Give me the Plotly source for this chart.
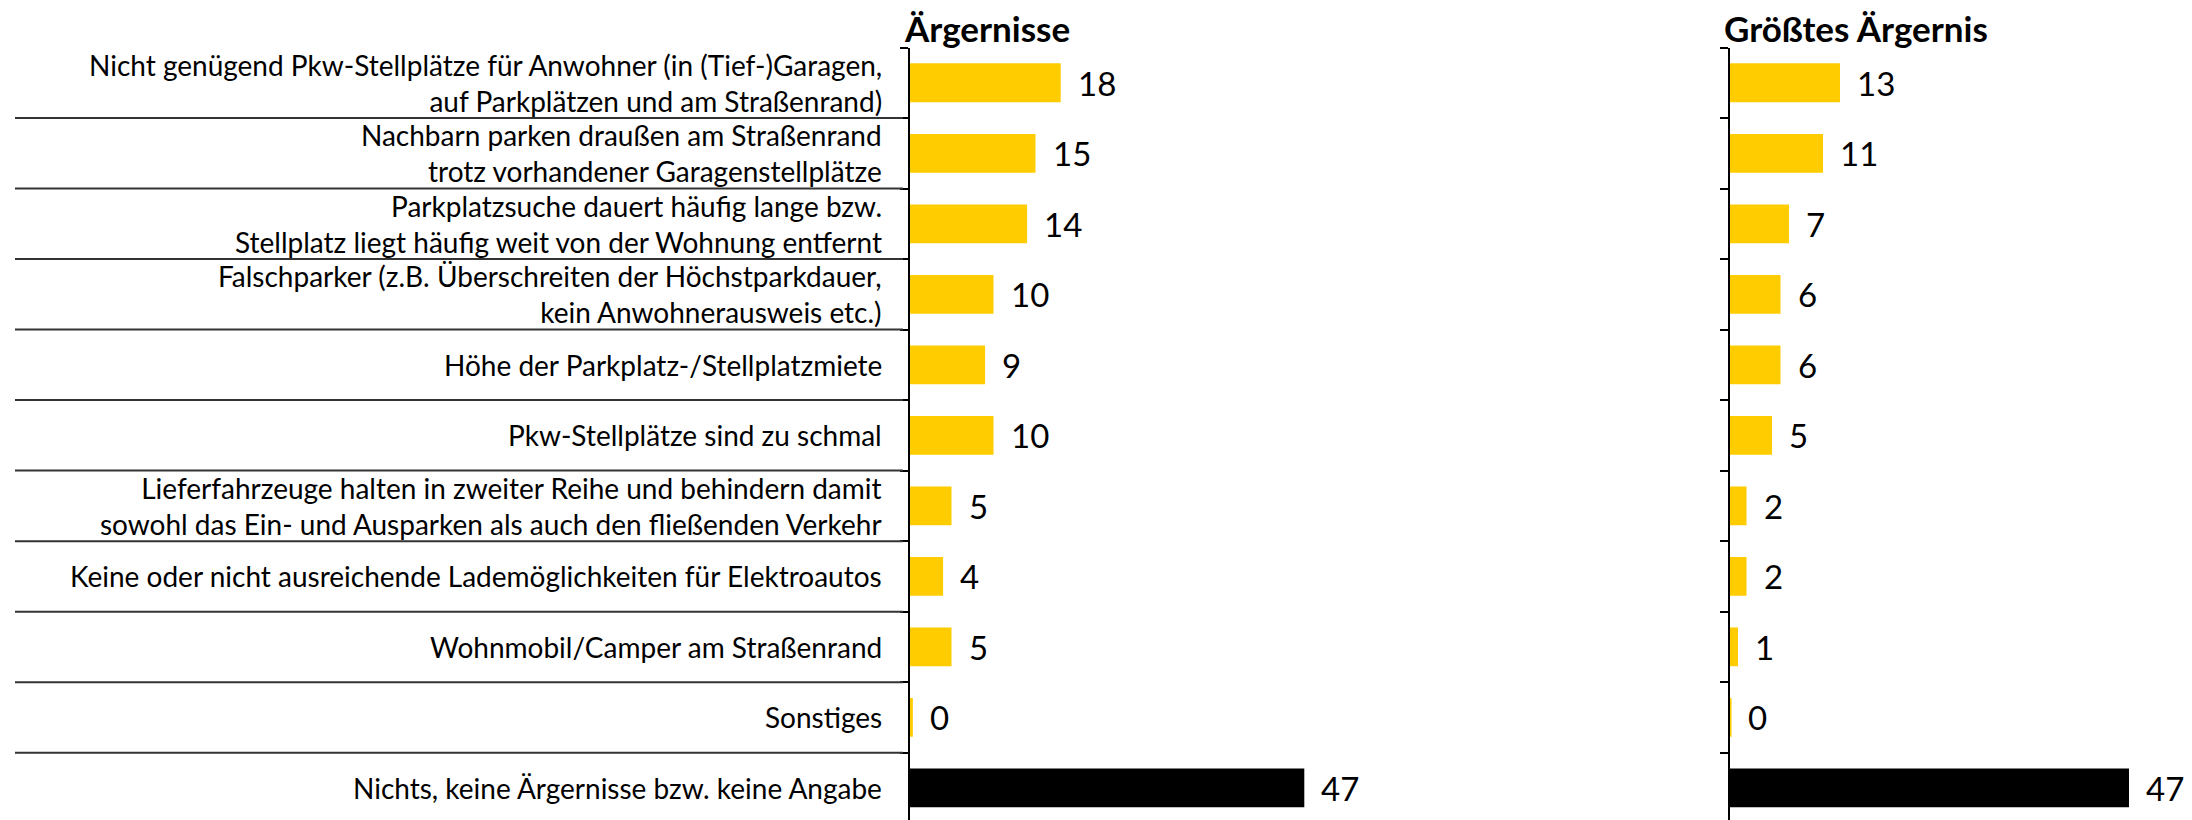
import plotly.graph_objects as go

categories = [
    "Nicht genügend Pkw-Stellplätze für Anwohner (in (Tief-)Garagen,<br>auf Parkplätzen und am Straßenrand)",
    "Nachbarn parken draußen am Straßenrand<br>trotz vorhandener Garagenstellplätze",
    "Parkplatzsuche dauert häufig lange bzw.<br>Stellplatz liegt häufig weit von der Wohnung entfernt",
    "Falschparker (z.B. Überschreiten der Höchstparkdauer,<br>kein Anwohnerausweis etc.)",
    "Höhe der Parkplatz-/Stellplatzmiete",
    "Pkw-Stellplätze sind zu schmal",
    "Lieferfahrzeuge halten in zweiter Reihe und behindern damit<br>sowohl das Ein- und Ausparken als auch den fließenden Verkehr",
    "Keine oder nicht ausreichende Lademöglichkeiten für Elektroautos",
    "Wohnmobil/Camper am Straßenrand",
    "Sonstiges",
    "Nichts, keine Ärgernisse bzw. keine Angabe",
]
aergernisse = [18, 15, 14, 10, 9, 10, 5, 4, 5, 0.4, 47]
groesstes = [13, 11, 7, 6, 6, 5, 2, 2, 1, 0.2, 47]
titles = ["Ärgernisse", "Größtes Ärgernis"]

# page body has an 8px default margin; size the figure to fill the rest
OFF = 8
W, H = 2192 - OFF, 820 - OFF
FONT = "Lato"
YELLOW = "#FFCC00"
colors = [YELLOW] * (len(categories) - 1) + ["#000000"]


def px_x(x):
    return (x - OFF) / W


def px_y(y):
    return 1 - (y - OFF) / H


top_px = 47.5
row_px = 70.52
rows_visible = (820 - top_px) / row_px
ydom = [0, px_y(top_px)]
yrange = [-0.5 + rows_visible, -0.5]

ax1_px, sc1, r1 = 909.5, 8.4, 60
ax2_px, sc2, r2 = 1729.5, 8.5, 50

ypos = list(range(len(categories)))

fig = go.Figure()
fig.add_trace(go.Bar(x=aergernisse, y=ypos, orientation="h", width=0.55,
                     marker=dict(color=colors, line=dict(width=0)),
                     xaxis="x", yaxis="y", hoverinfo="skip"))
fig.add_trace(go.Bar(x=groesstes, y=ypos, orientation="h", width=0.55,
                     marker=dict(color=colors, line=dict(width=0)),
                     xaxis="x2", yaxis="y2", hoverinfo="skip"))

yax = dict(domain=ydom, range=yrange, tickmode="array",
           tickvals=[i - 0.5 for i in range(len(categories) + 1)],
           showticklabels=False, ticks="outside", ticklen=8, tickwidth=2,
           tickcolor="black", showline=True, linewidth=2, linecolor="black",
           showgrid=False, zeroline=False)

fig.update_layout(
    width=W, height=H, margin=dict(l=0, r=0, t=0, b=0),
    paper_bgcolor="white", plot_bgcolor="rgba(0,0,0,0)",
    showlegend=False, font=dict(family=FONT, color="black"),
    xaxis=dict(domain=[px_x(ax1_px), px_x(ax1_px + sc1 * r1)], range=[0, r1],
               visible=False, anchor="y"),
    xaxis2=dict(domain=[px_x(ax2_px), px_x(ax2_px + sc2 * r2)], range=[0, r2],
                visible=False, anchor="y2"),
    yaxis=dict(anchor="x", **yax),
    yaxis2=dict(anchor="x2", matches="y", **yax),
)

ann = []
for i, c in enumerate(categories):
    ann.append(dict(x=px_x(884), xref="paper", y=i, yref="y", text=c,
                    xanchor="right", yanchor="middle", align="right",
                    showarrow=False, font=dict(size=28, family=FONT, color="black")))
for xr, vals in (("x", aergernisse), ("x2", groesstes)):
    yr = "y" if xr == "x" else "y2"
    for i, v in enumerate(vals):
        ann.append(dict(x=v, xref=xr, y=i, yref=yr, text=f"{v:.0f}",
                        xanchor="left", yanchor="middle", xshift=15,
                        showarrow=False, font=dict(size=33, family=FONT, color="black")))
for px, t in ((902, titles[0]), (1722, titles[1])):
    ann.append(dict(x=px_x(px), xref="paper", y=px_y(28), yref="paper", text=f"<b>{t}</b>",
                    xanchor="left", yanchor="middle", showarrow=False,
                    font=dict(size=35, family=FONT, color="black")))
fig.update_layout(annotations=ann)

shapes = []
for i in range(len(categories) - 1):
    shapes.append(dict(type="line", xref="paper", yref="y", x0=px_x(15), x1=px_x(903),
                       y0=i + 0.5, y1=i + 0.5, line=dict(color="#333333", width=2)))
fig.update_layout(shapes=shapes)

fig.write_html("out.html")
